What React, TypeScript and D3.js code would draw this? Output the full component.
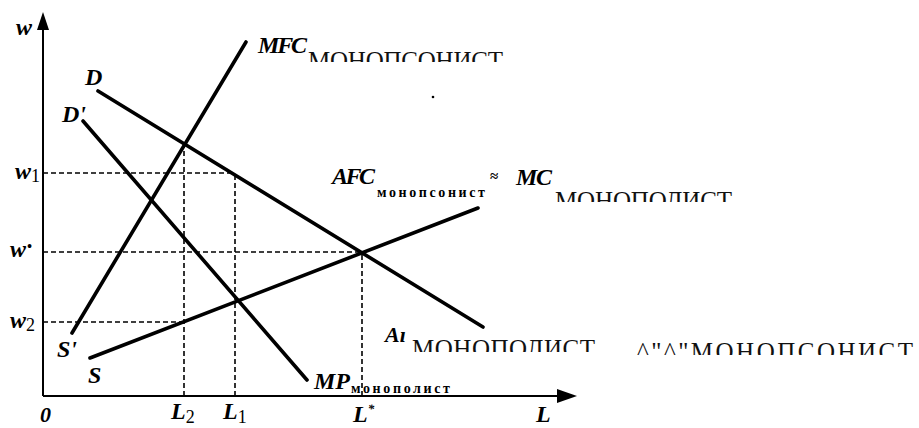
import React from 'react';
import * as d3 from 'd3';

const W = 919;
const H = 428;

// curves: endpoints in (L, w) units
const curveNames = ['MFC', 'D', "D'", 'S'];
const curveL = [[29, 203], [55, 440], [40, 264], [47, 435]];
const curveW = [[63, 354], [305, 69], [275, 16], [38, 188]];

// vertical guides (L value, top w value)
const guideL = [141, 192, 319];
const guideTopW = [251, 223, 144];
// horizontal guides (w value, right end L value)
const levelW = [223, 144, 74];
const levelEndL = [192, 319, 141];

const serif = "'Liberation Serif', 'Times New Roman', 'DejaVu Serif', serif";

export default function App() {
  const x = d3.scaleLinear().domain([0, 534]).range([43, 577]);
  const y = d3.scaleLinear().domain([0, 384]).range([396, 12]);
  const line = d3.line<[number, number]>().x(d => x(d[0])).y(d => y(d[1]));

  const lab = { style: { fontFamily: serif, fontStyle: 'italic', fontWeight: 700 }, fill: '#000' } as const;
  const plain = { style: { fontFamily: serif, fontWeight: 400 }, fill: '#111' } as const;
  const sub = { style: { fontFamily: serif, fontWeight: 700 }, fill: '#000' } as const;

  return (
    <svg width={W} height={H} style={{ position: 'absolute', left: 0, top: 0, background: '#fff' }}>
      <defs>
        <clipPath id="c1"><rect x={300} y={40} width={220} height={22} /></clipPath>
        <clipPath id="c2"><rect x={550} y={180} width={200} height={22} /></clipPath>
        <clipPath id="c3"><rect x={405} y={330} width={200} height={22} /></clipPath>
        <clipPath id="c4"><rect x={630} y={330} width={289} height={25} /></clipPath>
      </defs>

      {/* dashed guides */}
      <g stroke="#000" strokeWidth={1.6} strokeDasharray="5,3" fill="none">
        {guideL.map((l, i) => (
          <line key={'v' + i} x1={x(l)} x2={x(l)} y1={y(0)} y2={y(guideTopW[i])} />
        ))}
        {levelW.map((w, i) => (
          <line key={'h' + i} x1={x(0)} x2={x(levelEndL[i])} y1={y(w)} y2={y(w)} />
        ))}
      </g>

      {/* axes */}
      <line x1={x(0)} x2={x(0)} y1={y(0)} y2={y(370)} stroke="#000" strokeWidth={2} />
      <line x1={x(0)} x2={x(520)} y1={y(0)} y2={y(0)} stroke="#000" strokeWidth={2} />
      <path d={`M${x(0)},${y(384)} L${x(0) - 6},${y(366)} L${x(0) + 6},${y(366)} Z`} fill="#000" />
      <path d={`M${x(534)},${y(0)} L${x(514)},${y(0) - 7} L${x(514)},${y(0) + 7} Z`} fill="#000" />

      {/* curves */}
      <g stroke="#000" strokeWidth={3.6} fill="none" strokeLinecap="round">
        {curveNames.map((n, i) => (
          <path key={n} d={line([[curveL[i][0], curveW[i][0]], [curveL[i][1], curveW[i][1]]]) || ''} />
        ))}
      </g>

      {/* stray scan dot */}
      <circle cx={433} cy={97} r={1.3} fill="#000" />

      {/* axis labels */}
      <text x={16} y={35} fontSize={24} {...lab}>w</text>
      <text x={15} y={179} fontSize={24} {...lab}>w<tspan fontSize={18} style={{ fontStyle: 'normal', fontWeight: 400 }} dy={3}>1</tspan></text>
      <text x={10} y={257} fontSize={24} {...lab}>w<tspan fontSize={14} dx={1} dy={-6}>•</tspan></text>
      <text x={10} y={328} fontSize={24} {...lab}>w<tspan fontSize={18} style={{ fontStyle: 'normal', fontWeight: 400 }} dy={3}>2</tspan></text>

      <text x={40} y={422} fontSize={22} {...lab}>0</text>
      <text x={171} y={419} fontSize={24} {...lab}>L<tspan fontSize={18} style={{ fontStyle: 'normal', fontWeight: 400 }} dy={4}>2</tspan></text>
      <text x={223} y={419} fontSize={24} {...lab}>L<tspan fontSize={18} style={{ fontStyle: 'normal', fontWeight: 400 }} dy={4}>1</tspan></text>
      <text x={353} y={422} fontSize={24} {...lab}>L<tspan fontSize={13} dy={-9}>*</tspan></text>
      <text x={536} y={422} fontSize={24} {...lab}>L</text>

      {/* curve labels */}
      <text x={85} y={85} fontSize={24} {...lab}>D</text>
      <text x={62} y={122} fontSize={24} {...lab}>D'</text>
      <text x={57} y={357} fontSize={24} {...lab}>S'</text>
      <text x={88} y={383} fontSize={24} {...lab}>S</text>

      <text x={258} y={53} fontSize={24} {...lab} textLength={49}>MFC</text>
      <text x={308} y={69} fontSize={25} {...plain} textLength={195} clipPath="url(#c1)">МОНОПСОНИСТ</text>

      <text x={332} y={184} fontSize={24} {...lab} textLength={43}>AFC</text>
      <text x={377} y={197} fontSize={14} {...sub} textLength={108}>монопсонист</text>
      <text x={490} y={181} fontSize={15} {...sub}>≈</text>
      <text x={516} y={185} fontSize={24} {...lab} textLength={36}>MC</text>
      <text x={555} y={209} fontSize={25} {...plain} textLength={177} clipPath="url(#c2)">МОНОПОЛИСТ</text>

      <text x={385} y={342} fontSize={22} {...lab}>Aı</text>
      <text x={412} y={357} fontSize={25} {...plain} textLength={183} clipPath="url(#c3)">МОНОПОЛИСТ</text>
      <text x={637} y={360} fontSize={25} {...plain} textLength={276} clipPath="url(#c4)">^"^"МОНОПСОНИСТ</text>

      <text x={314} y={389} fontSize={24} {...lab} textLength={36}>MP</text>
      <text x={351} y={393} fontSize={14} {...sub} textLength={99}>монополист</text>
    </svg>
  );
}
